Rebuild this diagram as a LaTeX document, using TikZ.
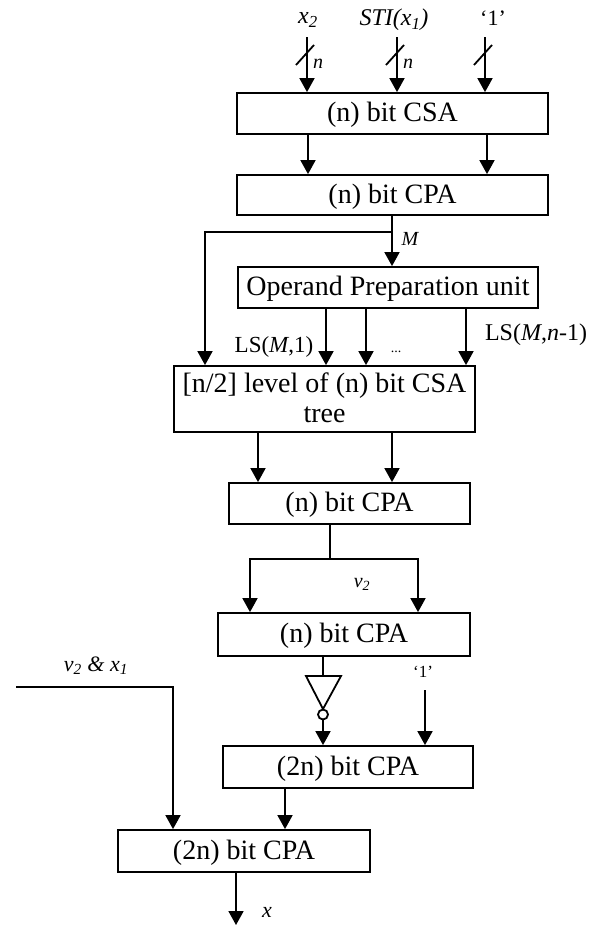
\documentclass[tikz,border=0pt]{standalone}
\usepackage{fontspec}
\setmainfont{Liberation Serif}
\usetikzlibrary{arrows.meta}
\begin{document}
\begin{tikzpicture}[x=1pt,y=-1pt,
  unit/.style={draw,line width=1.8pt,inner sep=0pt,
    text height=22pt,text depth=6pt,
    font=\fontsize{28}{30}\selectfont},
  caption/.style={inner sep=0pt,text height=22pt,text depth=6pt,
    font=\fontsize{28}{30}\selectfont},
  arr/.style={line width=1.8pt,-{Triangle[length=14pt,width=15pt]}},
  wire/.style={line width=1.8pt},
  lbl/.style={inner sep=0pt,font=\fontsize{23}{25}\selectfont},
  tlbl/.style={inner sep=0pt,font=\fontsize{24}{26}\selectfont\itshape},
  slbl/.style={inner sep=0pt,font=\fontsize{20}{22}\selectfont\itshape}]
\useasboundingbox (0,0) rectangle (598,929);

% processing units
\node[unit,minimum width=311pt,minimum height=41pt] (csa)  at (392.5,113.5) {(n) bit CSA};
\node[unit,minimum width=311pt,minimum height=40pt] (cpa1) at (392.5,195) {(n) bit CPA};
\node[unit,minimum width=300pt,minimum height=41pt] (op)   at (388,287.5) {Operand Preparation unit};
\node[draw,line width=1.8pt,minimum width=301pt,minimum height=66pt] (tree) at (324.5,399) {};
\node[caption] (tree1) at (324.5,384) {[n/2] level of (n) bit CSA};
\node[caption] (tree2) at (324.5,414) {tree};
\node[unit,minimum width=241pt,minimum height=41pt] (cpa2) at (349.5,503.5) {(n) bit CPA};
\node[unit,minimum width=252pt,minimum height=43pt] (cpa3) at (344,634.5) {(n) bit CPA};
\node[unit,minimum width=250pt,minimum height=42pt] (cpa4) at (348,767) {(2n) bit CPA};
\node[unit,minimum width=252pt,minimum height=42pt] (cpa5) at (244,851) {(2n) bit CPA};

% primary inputs
\node[tlbl] (lx2)  at (308,20) {x\textsubscript{2}};
\node[tlbl] (lsti) at (394,20) {STI(x\textsubscript{1})};
\node[lbl]  (lone) at (493,18) {\fontsize{22}{24}\selectfont ‘1’};
\coordinate (in1) at (307,37);
\coordinate (in2) at (397,37);
\coordinate (in3) at (485,37);
\foreach \c in {in1,in2,in3} {
  \draw[arr] (\c) -- (\c |- csa.north);
  \draw[wire] ([shift={(-11,28)}]\c) -- ([shift={(7,8)}]\c);
}
\node[slbl] (n1) at (318,64) {n};
\node[slbl] (n2) at (408,64) {n};

% CSA to CPA
\coordinate (c1) at (308,0);
\coordinate (c2) at (487,0);
\draw[arr] (csa.south -| c1) -- (cpa1.north -| c1);
\draw[arr] (csa.south -| c2) -- (cpa1.north -| c2);

% M bus
\coordinate (m) at (392,232);
\coordinate (mleft) at (205,0);
\draw[arr] (cpa1.south -| m) -- (op.north -| m);
\draw[arr] (m) -| (tree.north -| mleft);
\node[slbl] (lm) at (410,239) {M};

% shifted operands
\coordinate (s1) at (326,0);
\coordinate (s2) at (366,0);
\coordinate (s3) at (466,0);
\foreach \c in {s1,s2,s3}
  \draw[arr] (op.south -| \c) -- (tree.north -| \c);
\node[lbl] (ls1)  at (274,347) {LS(\textit{M},1)};
\node[lbl,anchor=base] (ldot) at (396,352) {\fontsize{14}{14}\selectfont ...};
\node[lbl] (ls2)  at (536,335) {\fontsize{24}{26}\selectfont LS(\textit{M},\textit{n}-1)};

% tree to CPA
\coordinate (t1) at (258,0);
\coordinate (t2) at (392,0);
\draw[arr] (tree.south -| t1) -- (cpa2.north -| t1);
\draw[arr] (tree.south -| t2) -- (cpa2.north -| t2);

% v2 split
\coordinate (v) at (330,559);
\coordinate (vl) at (250,559);
\coordinate (vr) at (418,559);
\draw[wire] (cpa2.south -| v) -- (v);
\draw[arr] (v) -- (vl) -- (cpa3.north -| vl);
\draw[arr] (v) -- (vr) -- (cpa3.north -| vr);
\node[slbl] (lv2) at (362,584) {v\textsubscript{2}};

% inverter
\coordinate (iv) at (323,676);
\draw[wire] (cpa3.south -| iv) -- (iv);
\draw[wire,line join=miter] (306,676) -- (341,676) -- (323,709) -- cycle;
\draw[wire] (323,714.5) circle (5pt);
\draw[arr] (323,719.5) -- (cpa4.north -| iv);

% carry-in
\node[lbl] (lone2) at (423,672) {\fontsize{17}{19}\selectfont ‘1’};
\coordinate (ci) at (425,690);
\draw[arr] (ci) -- (cpa4.north -| ci);

% v2 & x1 input
\node[lbl] (lvx) at (96,666) {\fontsize{22}{24}\selectfont\itshape v\textsubscript{2} \& x\textsubscript{1}};
\coordinate (vx) at (16,687);
\coordinate (vxd) at (173,0);
\draw[arr] (vx) -| (cpa5.north -| vxd);

% final stage
\coordinate (f) at (285,0);
\draw[arr] (cpa4.south -| f) -- (cpa5.north -| f);
\coordinate (out) at (236,925);
\draw[arr] (cpa5.south -| out) -- (out);
\node[slbl] (lx) at (267,912) {\fontsize{22}{24}\selectfont x};
\end{tikzpicture}
\end{document}
